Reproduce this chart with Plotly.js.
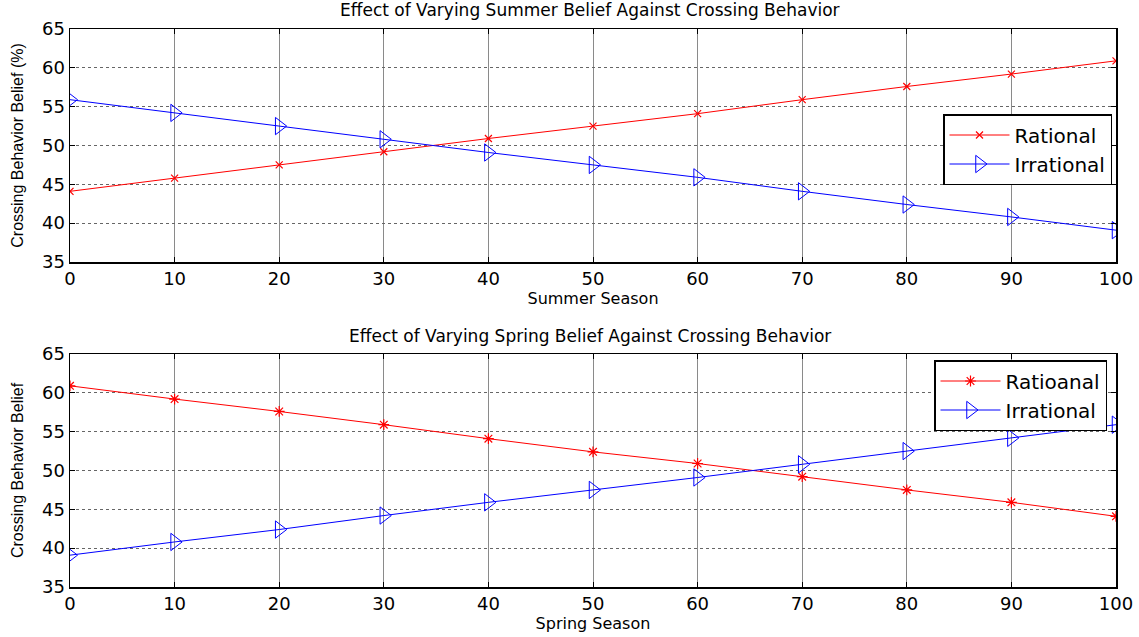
<!DOCTYPE html>
<html><head><meta charset="utf-8">
<script src="https://cdn.plot.ly/plotly-3.0.1.min.js"></script>
<style>body{margin:0;background:#fff}#plot{width:1139px;height:637px}</style>
</head><body><div id="plot"></div>
<script>
const xVals = [0,10,20,30,40,50,60,70,80,90,100];
const summerRational = [44.1,45.8,47.5,49.2,50.9,52.5,54.1,55.9,57.6,59.2,60.9];
const summerIrrational = [55.9,54.2,52.5,50.8,49.1,47.5,45.9,44.1,42.4,40.8,39.1];
const springRational = [60.9,59.2,57.6,55.9,54.1,52.4,50.9,49.2,47.5,45.9,44.1];
const springIrrational = [39.1,40.8,42.4,44.2,45.9,47.5,49.1,50.8,52.5,54.2,55.9];
const tickVals = [0,10,20,30,40,50,60,70,80,90,100];

const F = 'Arial, "Liberation Sans", sans-serif';
const W = '"DejaVu Sans", Arial, sans-serif';
const traces = [
  {x:xVals,y:summerRational,name:'Rational',mode:'lines+markers',xaxis:'x',yaxis:'y',legend:'legend',
   line:{color:'#ff0000',width:1},marker:{symbol:'x-thin-open',size:7,color:'#ff0000',line:{color:'#ff0000',width:1.2}}},
  {x:xVals,y:summerIrrational,name:'Irrational',mode:'lines+markers',xaxis:'x',yaxis:'y',legend:'legend',
   line:{color:'#0000ff',width:1},marker:{symbol:'triangle-right-open',size:15,color:'#0000ff',line:{color:'#0000ff',width:1}}},
  {x:xVals,y:springRational,name:'Ratioanal',mode:'lines+markers',xaxis:'x2',yaxis:'y2',legend:'legend2',
   line:{color:'#ff0000',width:1},marker:{symbol:'asterisk-open',size:9,color:'#ff0000',line:{color:'#ff0000',width:1.2}}},
  {x:xVals,y:springIrrational,name:'Irrational',mode:'lines+markers',xaxis:'x2',yaxis:'y2',legend:'legend2',
   line:{color:'#0000ff',width:1},marker:{symbol:'triangle-right-open',size:15,color:'#0000ff',line:{color:'#0000ff',width:1}}}
];

function xa(anchor, title){
  return {domain:[70/1139,1116/1139],anchor:anchor,range:[0,100],tickvals:tickVals,ticks:'inside',ticklen:5,
    tickcolor:'#000',mirror:'ticks',showline:true,linecolor:'#000',linewidth:1.5,showgrid:true,gridcolor:'#8a8a8a',
    griddash:'solid',gridwidth:1,zeroline:false,tickfont:{family:W,size:18,color:'#000'},
    title:{text:title,font:{family:W,size:16,color:'#000'},standoff:4}};
}
function ya(anchor, dom, title){
  return {domain:dom,anchor:anchor,range:[35,65],dtick:5,tick0:35,ticks:'inside',ticklen:5,
    tickcolor:'#000',mirror:'ticks',showline:true,linecolor:'#000',linewidth:1.5,showgrid:true,gridcolor:'#666',
    griddash:'dot',gridwidth:1,zeroline:false,tickfont:{family:W,size:18,color:'#000'},
    title:{text:title,font:{family:F,size:16,color:'#000'},standoff:14}};
}

const layout = {
  width:1139,height:637,paper_bgcolor:'#fff',plot_bgcolor:'#fff',
  margin:{l:0,r:0,t:0,b:0,autoexpand:false},
  xaxis:xa('y','Summer Season'),
  yaxis:ya('x',[1-262/637,1-29/637],'Crossing Behavior Belief (%)'),
  xaxis2:xa('y2','Spring Season'),
  yaxis2:ya('x2',[1-587/637,1-354/637],'Crossing Behavior Belief'),
  legend:{x:1112/1139,y:1-114/637,xanchor:'right',yanchor:'top',bgcolor:'#fff',bordercolor:'#000',borderwidth:1.5,
    font:{family:W,size:20,color:'#000'},tracegroupgap:0,itemwidth:60},
  legend2:{x:1107/1139,y:1-360/637,xanchor:'right',yanchor:'top',bgcolor:'#fff',bordercolor:'#000',borderwidth:1.5,
    font:{family:W,size:20,color:'#000'},tracegroupgap:0,itemwidth:60},
  annotations:[
    {text:'Effect of Varying Summer Belief Against Crossing Behavior',xref:'paper',yref:'paper',x:590/1139,y:1-10/637,
     xanchor:'center',yanchor:'middle',showarrow:false,font:{family:W,size:17,color:'#000'}},
    {text:'Effect of Varying Spring Belief Against Crossing Behavior',xref:'paper',yref:'paper',x:590/1139,y:1-336/637,
     xanchor:'center',yanchor:'middle',showarrow:false,font:{family:W,size:17,color:'#000'}}
  ],
  showlegend:true
};
Plotly.newPlot('plot',traces,layout,{staticPlot:true});
</script></body></html>
